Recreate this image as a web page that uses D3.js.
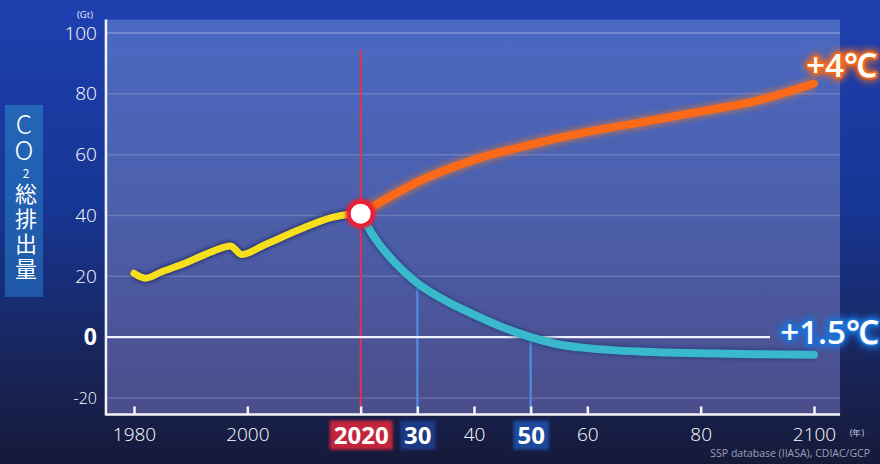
<!DOCTYPE html>
<html>
<head>
<meta charset="utf-8">
<script src="https://cdn.jsdelivr.net/npm/d3@7/dist/d3.min.js"></script>
<style>
  html, body { margin: 0; padding: 0; background: #14193a; }
  svg { display: block; }
  text { font-family: "Open Sans", "Noto Sans", sans-serif; }
</style>
</head>
<body>
<svg id="chart" width="880" height="464"></svg>
<script>
// Historical emissions (Gt CO2)
const histYears  = [1980, 1982, 1985, 1989, 1994, 1997, 1999, 2003, 2009, 2015, 2018, 2020];
const histValues = [21.0, 19.4, 21.6, 24.3, 28.3, 30.0, 27.2, 30.3, 35.2, 39.4, 40.4, 40.6];

// +4℃ pathway
const hotYears  = [2020, 2025, 2030, 2040, 2050, 2060, 2070, 2080, 2090, 2100];
const hotValues = [40.6, 46.0, 51.0, 58.3, 63.3, 67.5, 70.8, 74.2, 77.8, 83.4];

// +1.5℃ pathway
const lowYears  = [2020, 2022, 2026, 2030, 2035, 2040, 2045, 2050, 2055, 2060, 2070, 2080, 2090, 2100];
const lowValues = [40.6, 34.0, 24.6, 17.8, 12.0, 7.4, 3.3, 0.0, -2.4, -3.6, -4.8, -5.3, -5.6, -5.8];

// Axis ticks
const xTicks      = [1980, 2000, 2020, 2030, 2040, 2050, 2060, 2080, 2100];
const xTickLabels = ["1980", "2000", "2020", "30", "40", "50", "60", "80", "2100"];
const yTicks      = [-20, 0, 20, 40, 60, 80, 100];
const yTickLabels = ["-20", "0", "20", "40", "60", "80", "100"];
const markerYears = [2030, 2050];

const svg = d3.select("#chart");
const W = 880, H = 464;

const x = d3.scaleLinear().domain([1980, 2100]).range([134, 814]);
const y = d3.scaleLinear().domain([-20, 100]).range([398, 33]);

const plotL = x(1975.05), plotR = x(2104.6), plotT = y(104.4), plotB = y(-25.4);

const defs = svg.append("defs");

// background gradients
const bg = defs.append("linearGradient").attr("id", "bg").attr("x1", 0).attr("y1", 0).attr("x2", 0).attr("y2", 1);
bg.append("stop").attr("offset", 0).attr("stop-color", "#1f40b0");
bg.append("stop").attr("offset", 0.45).attr("stop-color", "#173593");
bg.append("stop").attr("offset", 0.8).attr("stop-color", "#182457");
bg.append("stop").attr("offset", 1).attr("stop-color", "#161a3a");

const pg = defs.append("linearGradient").attr("id", "pg").attr("x1", 0).attr("y1", 0).attr("x2", 0).attr("y2", 1);
pg.append("stop").attr("offset", 0).attr("stop-color", "#4a68c2");
pg.append("stop").attr("offset", 0.45).attr("stop-color", "#4c60ad");
pg.append("stop").attr("offset", 1).attr("stop-color", "#4b4d8a");

const lg = defs.append("linearGradient").attr("id", "lg").attr("x1", 0).attr("y1", 0).attr("x2", 0).attr("y2", 1);
lg.append("stop").attr("offset", 0).attr("stop-color", "#2466b8");
lg.append("stop").attr("offset", 1).attr("stop-color", "#1e58a6");

function blurFilter(id, sd) {
  defs.append("filter").attr("id", id)
    .attr("x", "-50%").attr("y", "-50%").attr("width", "200%").attr("height", "200%")
    .append("feGaussianBlur").attr("stdDeviation", sd);
}
blurFilter("soft", 2.5);
blurFilter("soft2", 1.5);
blurFilter("glow", 3.5);

svg.append("rect").attr("width", W).attr("height", H).attr("fill", "url(#bg)");

// plot panel
svg.append("rect")
  .attr("x", plotL).attr("y", plotT)
  .attr("width", plotR - plotL).attr("height", plotB - plotT)
  .attr("fill", "url(#pg)");

// faint horizontal grid
svg.append("g").selectAll("line")
  .data(yTicks.filter(v => v !== 0))
  .join("line")
  .attr("x1", plotL).attr("x2", plotR)
  .attr("y1", d => y(d)).attr("y2", d => y(d))
  .attr("stroke", "#ffffff").attr("stroke-opacity", d => d === 100 ? 0.3 : 0.17)
  .attr("stroke-width", 1.5);

// vertical guide at 2020
svg.append("line")
  .attr("x1", x(2020)).attr("x2", x(2020))
  .attr("y1", 50).attr("y2", plotB)
  .attr("stroke", "#e0344a").attr("stroke-width", 2);

// blue guides from the 1.5℃ curve down to the axis
const lowAt = yr => lowValues[lowYears.indexOf(yr)];
svg.append("g").selectAll("line")
  .data(markerYears)
  .join("line")
  .attr("x1", d => x(d)).attr("x2", d => x(d))
  .attr("y1", d => y(lowAt(d))).attr("y2", plotB)
  .attr("stroke", "#4f8de0").attr("stroke-width", 2.2);

// zero line
svg.append("line")
  .attr("x1", plotL).attr("x2", 770)
  .attr("y1", y(0)).attr("y2", y(0))
  .attr("stroke", "#f2f2ff").attr("stroke-width", 2.2);

// axes frame
svg.append("line").attr("x1", plotL).attr("x2", plotL).attr("y1", plotT).attr("y2", plotB + 1)
  .attr("stroke", "#f4f4f8").attr("stroke-width", 2.5);

// bottom axis
const xAxis = d3.axisBottom(x)
  .tickValues(xTicks)
  .tickFormat((d, i) => xTickLabels[i])
  .tickSizeInner(-8).tickSizeOuter(0).tickPadding(16);
const gx = svg.append("g").attr("transform", `translate(0,${plotB})`).call(xAxis);
gx.select(".domain").attr("d", `M${plotL},0H${plotR}`).attr("stroke", "#f4f4f8").attr("stroke-width", 2.5);
gx.selectAll(".tick line").attr("stroke", "#f4f4f8").attr("stroke-width", 2.5);
const boldX = { "2020": "#d8263b", "30": "#1f3c8c", "50": "#1f4fa8" };
gx.selectAll(".tick text")
  .attr("fill", "#ffffff")
  .style("font-size", (d, i) => boldX[xTickLabels[i]] ? "24px" : "19px")
  .style("font-weight", (d, i) => boldX[xTickLabels[i]] ? "700" : "300")
  .attr("dy", "0.55em");
gx.selectAll(".tick").each(function (d, i) {
  const lab = xTickLabels[i];
  if (!boldX[lab]) return;
  const t = d3.select(this).select("text").node();
  const b = t.getBBox();
  d3.select(this).insert("rect", "text")
    .attr("x", b.x - 4).attr("y", b.y + 3)
    .attr("width", b.width + 8).attr("height", b.height - 4)
    .attr("fill", boldX[lab]).attr("opacity", 0.9)
    .attr("filter", "url(#soft2)");
});

// left axis labels
const yAxis = d3.axisLeft(y)
  .tickValues(yTicks)
  .tickFormat((d, i) => yTickLabels[i])
  .tickSize(0).tickPadding(9);
const gy = svg.append("g").attr("transform", `translate(${plotL},0)`).call(yAxis);
gy.select(".domain").remove();
gy.selectAll(".tick text")
  .attr("fill", "#ffffff")
  .style("font-size", d => d === 0 ? "23px" : d === -20 ? "16px" : "19px")
  .style("font-weight", d => d === 0 ? "700" : "300");

// unit labels
svg.append("text").attr("x", 85).attr("y", 18).attr("text-anchor", "middle")
  .attr("fill", "#e8ecff").style("font-size", "9.5px").text("(Gt)");
svg.append("text").attr("x", 857).attr("y", 436).attr("text-anchor", "middle")
  .attr("fill", "#c8cce0").style("font-size", "9px").text("(年)");

// source
svg.append("text").attr("x", 870).attr("y", 457).attr("text-anchor", "end")
  .attr("fill", "#9aa0b8").style("font-size", "10.5px").text("SSP database (IIASA), CDIAC/GCP");

// left title box with vertical, upright title
svg.append("rect").attr("x", 5).attr("y", 105).attr("width", 38).attr("height", 192)
  .attr("fill", "url(#lg)");
const title = svg.append("text")
  .attr("x", 24).attr("y", 111)
  .attr("fill", "#ffffff")
  .style("writing-mode", "vertical-rl")
  .style("text-orientation", "upright")
  .style("font-family", "'Noto Sans CJK JP', sans-serif");
title.append("tspan").style("font-size", "26px").style("font-weight", "300").text("CO");
title.append("tspan").style("font-size", "12px").attr("dx", 2).attr("dy", 4).text("2");
title.append("tspan").style("font-size", "22px").style("letter-spacing", "3px").attr("dy", 4).text("総排出量");

// data lines
const line = d3.line().x(d => x(d[0])).y(d => y(d[1])).curve(d3.curveMonotoneX);
const hist = histYears.map((v, i) => [v, histValues[i]]);
const hot  = hotYears.map((v, i) => [v, hotValues[i]]);
const low  = lowYears.map((v, i) => [v, lowValues[i]]);

// +1.5℃
svg.append("path").datum(low).attr("d", line).attr("fill", "none")
  .attr("stroke", "#1c2f6e").attr("stroke-opacity", 0.5).attr("stroke-width", 11)
  .attr("filter", "url(#soft2)");
svg.append("path").datum(low).attr("d", line).attr("fill", "none")
  .attr("stroke", "#3ab8cc").attr("stroke-width", 8).attr("stroke-linecap", "round");

// +4℃
svg.append("path").datum(hot).attr("d", line).attr("fill", "none")
  .attr("stroke", "#ff7a1a").attr("stroke-opacity", 0.45).attr("stroke-width", 13)
  .attr("filter", "url(#soft)");
svg.append("path").datum(hot).attr("d", line).attr("fill", "none")
  .attr("stroke", "#fa6a18").attr("stroke-width", 8).attr("stroke-linecap", "round");

// history
svg.append("path").datum(hist).attr("d", line).attr("fill", "none")
  .attr("stroke", "#1a2560").attr("stroke-opacity", 0.6).attr("stroke-width", 11)
  .attr("filter", "url(#soft2)");
svg.append("path").datum(hist).attr("d", line).attr("fill", "none")
  .attr("stroke", "#f6e01e").attr("stroke-width", 7).attr("stroke-linecap", "round");

// 2020 marker
const last = hist[hist.length - 1];
svg.append("circle").attr("cx", x(last[0])).attr("cy", y(last[1])).attr("r", 15)
  .attr("fill", "#ee1a30").attr("filter", "url(#soft2)");
svg.append("circle").attr("cx", x(last[0])).attr("cy", y(last[1])).attr("r", 10)
  .attr("fill", "#ffffff");

// pathway labels
function glowLabel(tx, ty, str, glowColor) {
  const g = svg.append("g").style("font-size", "33px").style("font-weight", "600");
  g.append("text").attr("x", tx).attr("y", ty).attr("text-anchor", "end").text(str)
    .attr("fill", glowColor).attr("stroke", glowColor).attr("stroke-width", 7)
    .attr("stroke-linejoin", "round").attr("filter", "url(#glow)");
  g.append("text").attr("x", tx).attr("y", ty).attr("text-anchor", "end").text(str)
    .attr("fill", glowColor).attr("stroke", glowColor).attr("stroke-width", 3.5)
    .attr("stroke-linejoin", "round");
  g.append("text").attr("x", tx).attr("y", ty).attr("text-anchor", "end").text(str)
    .attr("fill", "#ffffff");
}
glowLabel(877, 77, "+4℃", "#f06a1c");
glowLabel(879, 344, "+1.5℃", "#1a6fd6");
</script>
</body>
</html>
